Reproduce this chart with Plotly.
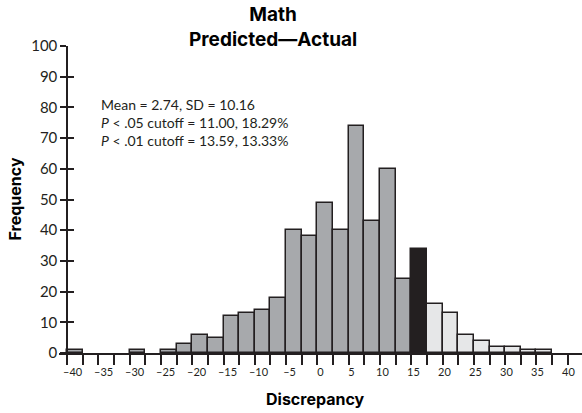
import plotly.graph_objects as go

# Histogram of predicted minus actual math scores
bin_start = -40.9
bin_width = 2.525
counts = [1, 0, 0, 0, 1, 0, 1, 3, 6, 5, 12, 13, 14, 18, 40, 38,
          49, 40, 74, 43, 60, 24, 34, 16, 13, 6, 4, 2, 2, 1, 1, 0]
# shading group for each bin: body, p<.05 band, p<.01 tail
groups = ["body"] * 22 + ["p05"] + ["p01"] * 9
x_labels = list(range(-40, 45, 5))
y_ticks = list(range(0, 110, 10))
stats_lines = ["Mean = 2.74, SD = 10.16",
               "<i>P</i> < .05 cutoff = 11.00, 18.29%",
               "<i>P</i> < .01 cutoff = 13.59, 13.33%"]

ink = "#231f20"
fills = {"body": "#a7a9ac", "p05": "#231f20", "p01": "#e6e7e8"}
font_reg = "Lato, 'Open Sans', sans-serif"
font_bold = "Inter, Lato, sans-serif"

edges = [bin_start + i * bin_width for i in range(len(counts) + 1)]
centers = [e + bin_width / 2 for e in edges[:-1]]

x_range = [-42.2, 42.2]
y_axis_pos = (edges[0] - x_range[0]) / (x_range[1] - x_range[0])

fig = go.Figure()
fig.add_trace(go.Bar(
    x=centers, y=counts, width=bin_width,
    marker=dict(color=[fills[g] for g in groups],
                line=dict(color=ink, width=[1.5 if c else 0 for c in counts])),
    showlegend=False, hoverinfo="x+y",
))
# invisible traces carrying the overlay axes
fig.add_trace(go.Scatter(x=[x_labels[0], x_labels[-1]], y=[0, 0], xaxis="x2",
                         mode="markers", marker=dict(opacity=0),
                         showlegend=False, hoverinfo="skip"))
fig.add_trace(go.Scatter(x=[0], y=[0], yaxis="y2", mode="markers",
                         marker=dict(opacity=0), showlegend=False,
                         hoverinfo="skip"))

fig.update_layout(
    width=582, height=413,
    margin=dict(l=59, r=0, t=46, b=60),
    paper_bgcolor="white", plot_bgcolor="white",
    bargap=0,
    font=dict(family=font_reg, color=ink),
    xaxis=dict(range=x_range, tickvals=edges, showticklabels=False,
               ticks="outside", ticklen=10, tickwidth=1.5, tickcolor=ink,
               showline=True, linecolor=ink, linewidth=1.5,
               showgrid=False, zeroline=False, fixedrange=True),
    xaxis2=dict(range=x_range, overlaying="x", anchor="y", side="bottom",
                tickvals=x_labels,
                ticktext=[str(v).replace("-", "\u2013") for v in x_labels],
                ticks="outside", ticklen=9, tickcolor="rgba(0,0,0,0)",
                tickfont=dict(size=11, family=font_reg, color=ink),
                showline=False, showgrid=False, zeroline=False),
    yaxis=dict(range=[0, 100], tickvals=y_ticks,
               anchor="free", position=y_axis_pos,
               ticks="outside", ticklen=6, tickwidth=1.5, tickcolor=ink,
               tickfont=dict(size=15, family=font_reg, color=ink),
               showline=True, linecolor=ink, linewidth=1.5,
               showgrid=False, zeroline=False),
    yaxis2=dict(range=[0, 100], tickvals=y_ticks, overlaying="y",
                anchor="free", position=y_axis_pos,
                ticks="inside", ticklen=6, tickwidth=1.5, tickcolor=ink,
                showticklabels=False, showline=False,
                showgrid=False, zeroline=False),
)

fig.add_annotation(
    text="<b>Math<br>Predicted\u2014Actual</b>",
    xref="paper", yref="paper", x=(273 - 59) / 523, y=1,
    yshift=45, xanchor="center", yanchor="top", showarrow=False,
    font=dict(size=19, family=font_bold, color="black", weight=800),
)
fig.add_annotation(
    text="<br>".join(stats_lines),
    xref="paper", yref="paper", x=(99 - 59) / 523, y=1,
    yshift=-48, xanchor="left", yanchor="top", align="left",
    showarrow=False, font=dict(size=14, family=font_reg, color=ink),
)
fig.add_annotation(
    text="<b>Frequency</b>", textangle=-90,
    xref="paper", yref="paper", x=(14 - 59) / 523, y=0.5,
    xanchor="center", yanchor="middle", showarrow=False,
    font=dict(size=16, family=font_bold, color="black", weight=800),
)
fig.add_annotation(
    text="<b>Discrepancy</b>",
    xref="paper", yref="paper", x=(315 - 59) / 523, y=0,
    yshift=-34, xanchor="center", yanchor="top", showarrow=False,
    font=dict(size=16, family=font_bold, color="black", weight=800),
)

fig.write_html("out.html")
